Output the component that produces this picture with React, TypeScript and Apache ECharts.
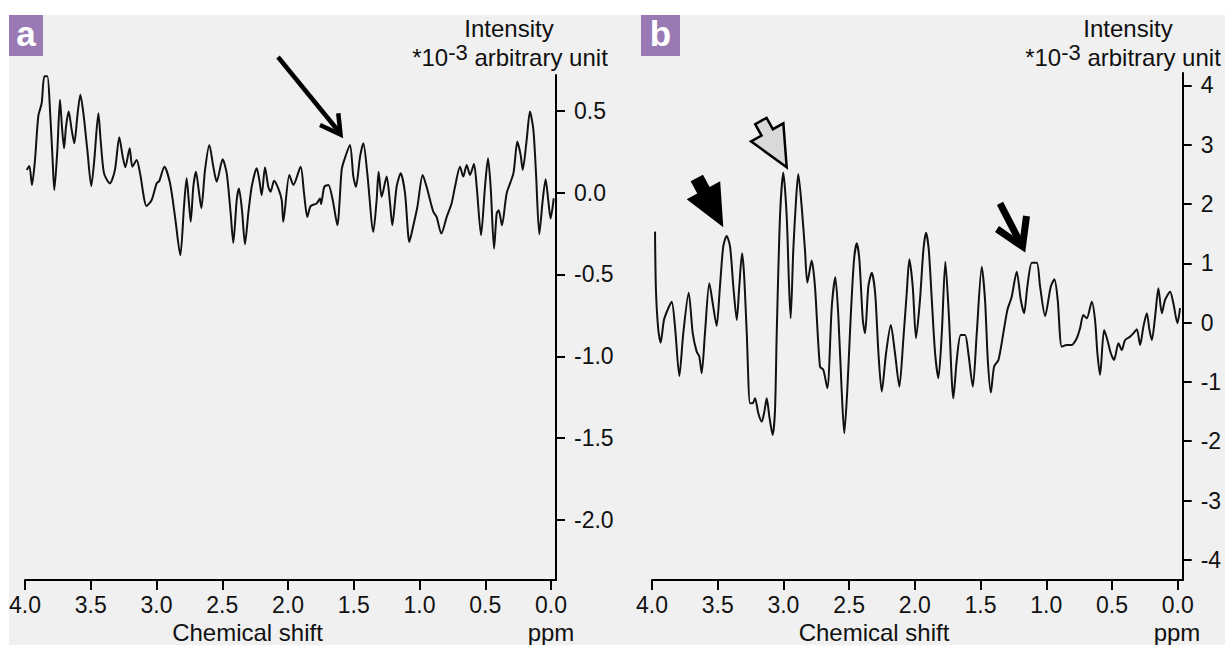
import React, { useEffect, useRef } from "react";
import * as echarts from "echarts";

// Panel a: chemical shift (ppm) and intensity (*10^-3 a.u.)
const ppmA = [3.987,3.967,3.947,3.924,3.899,3.873,3.853,3.830,3.810,3.790,3.777,3.754,3.734,3.719,3.703,3.688,3.668,3.645,3.625,3.602,3.579,3.556,3.526,3.496,3.473,3.442,3.425,3.399,3.354,3.316,3.283,3.257,3.237,3.204,3.184,3.151,3.125,3.075,3.037,2.999,2.979,2.940,2.897,2.859,2.819,2.791,2.771,2.755,2.740,2.720,2.700,2.679,2.659,2.631,2.598,2.568,2.542,2.497,2.466,2.436,2.416,2.390,2.373,2.350,2.327,2.302,2.276,2.238,2.218,2.200,2.175,2.150,2.132,2.106,2.074,2.048,2.036,1.990,1.959,1.904,1.878,1.853,1.828,1.782,1.757,1.749,1.724,1.693,1.660,1.625,1.592,1.572,1.529,1.503,1.483,1.452,1.427,1.397,1.351,1.326,1.311,1.288,1.250,1.224,1.207,1.174,1.143,1.110,1.077,1.052,1.016,0.976,0.946,0.895,0.870,0.834,0.793,0.756,0.730,0.692,0.667,0.641,0.616,0.586,0.565,0.532,0.502,0.479,0.459,0.433,0.413,0.398,0.373,0.337,0.286,0.256,0.231,0.215,0.185,0.160,0.134,0.114,0.089,0.063,0.041,0.021,0.003,-0.021];
const intA = [0.139,0.163,0.047,0.2,0.466,0.548,0.711,0.711,0.507,0.2,0.016,0.261,0.568,0.404,0.272,0.404,0.496,0.384,0.302,0.466,0.599,0.486,0.261,0.04,0.2,0.486,0.323,0.118,0.057,0.139,0.339,0.22,0.155,0.272,0.159,0.2,0.118,-0.082,-0.045,0.057,0.071,0.159,0.057,-0.148,-0.383,-0.086,0.088,-0.045,-0.178,0.036,0.128,0.016,-0.096,0.139,0.292,0.159,0.067,0.204,0.118,-0.127,-0.307,-0.045,0.026,-0.107,-0.315,-0.127,0.036,0.149,0.077,-0.015,0.155,0.036,0.006,0.073,0.026,-0.045,-0.178,0.108,0.047,0.159,-0.004,-0.148,-0.082,-0.066,-0.035,-0.07,0.036,0.047,-0.045,-0.199,0.139,0.2,0.292,0.098,0.036,0.22,0.302,0.118,-0.24,-0.045,0.128,-0.025,0.098,-0.066,-0.199,0.036,0.118,-0.004,-0.301,-0.219,-0.086,0.108,0.036,-0.117,-0.148,-0.25,-0.148,-0.066,0.036,0.159,0.098,0.169,0.108,0.175,0.036,-0.26,0.036,0.21,0.036,-0.342,-0.127,-0.107,-0.199,-0.004,0.118,0.312,0.231,0.139,0.323,0.496,0.384,0.118,-0.254,-0.045,0.082,-0.045,-0.158,-0.035];

// Panel b
const ppmB = [3.977,3.970,3.952,3.934,3.909,3.876,3.850,3.825,3.792,3.762,3.721,3.690,3.660,3.640,3.622,3.597,3.564,3.534,3.508,3.483,3.458,3.432,3.406,3.381,3.355,3.336,3.315,3.300,3.279,3.254,3.234,3.216,3.191,3.165,3.145,3.127,3.107,3.082,3.064,3.051,3.026,3.001,2.975,2.957,2.945,2.925,2.904,2.887,2.861,2.836,2.818,2.785,2.760,2.722,2.696,2.666,2.632,2.605,2.582,2.557,2.537,2.514,2.488,2.463,2.442,2.422,2.396,2.379,2.354,2.328,2.302,2.277,2.252,2.219,2.183,2.151,2.118,2.088,2.062,2.042,2.016,1.991,1.961,1.935,1.915,1.894,1.871,1.846,1.821,1.795,1.768,1.742,1.707,1.681,1.651,1.618,1.593,1.559,1.529,1.491,1.466,1.445,1.422,1.397,1.364,1.327,1.296,1.263,1.225,1.194,1.169,1.144,1.110,1.072,1.047,1.009,0.966,0.938,0.913,0.882,0.844,0.806,0.768,0.743,0.718,0.692,0.654,0.629,0.611,0.591,0.560,0.535,0.509,0.484,0.451,0.426,0.400,0.362,0.337,0.311,0.286,0.261,0.235,0.215,0.197,0.172,0.147,0.121,0.096,0.058,0.033,0.002,-0.018];
const intB = [1.535,0.551,-0.123,-0.337,0.046,0.243,0.354,-0.067,-0.899,-0.179,0.506,-0.179,-0.489,-0.573,-0.853,-0.179,0.664,0.27,-0.056,0.607,1.282,1.462,1.282,0.607,0.046,0.607,1.17,0.833,-0.179,-1.359,-1.359,-1.275,-1.528,-1.67,-1.501,-1.275,-1.585,-1.894,-1.472,-0.179,1.788,2.53,1.788,0.607,0.074,1.226,2.069,2.508,1.956,1.226,0.675,1.046,0.607,-0.742,-0.798,-1.106,0.27,0.766,0.101,-1.135,-1.865,-1.135,0.101,1.057,1.339,1.057,0.046,-0.179,0.607,0.843,0.496,-0.516,-1.164,-0.516,-0.039,-0.516,-1.079,-0.292,0.496,1.069,0.607,-0.263,0.383,1.226,1.518,1.226,0.383,-0.516,-0.938,-0.179,1.029,0.159,-1.275,-0.629,-0.207,-0.207,-0.516,-1.079,-0.179,0.944,0.383,-0.629,-1.18,-0.742,-0.629,-0.179,0.214,0.438,0.86,0.383,0.159,0.607,1.012,1.012,0.607,0.113,0.607,0.732,0.383,-0.405,-0.376,-0.376,-0.263,-0.094,0.13,0.074,0.354,0.046,-0.516,-0.882,-0.123,-0.292,-0.516,-0.629,-0.347,-0.46,-0.292,-0.236,-0.179,-0.111,-0.376,-0.067,0.159,-0.123,-0.292,0.101,0.58,0.159,0.383,0.523,0.327,-0.01,0.243];

const xTicks = [0, 0.5, 1, 1.5, 2, 2.5, 3, 3.5, 4];
const yTicksA = [0.5, 0, -0.5, -1, -1.5, -2];
const yTicksB = [4, 3, 2, 1, 0, -1, -2, -3, -4];

const panelLetters = ["a", "b"];
const xTitle = "Chemical shift";
const xUnit = "ppm";
const yTitle = "Intensity";

const FONT = '"Liberation Sans", Arial, Helvetica, sans-serif';

function zip(xs: number[], ys: number[]) {
  const n = Math.min(xs.length, ys.length);
  const out: number[][] = [];
  for (let i = 0; i < n; i++) out.push([xs[i], ys[i]]);
  return out;
}

function blockArrow(tip: number[], dir: number[], headLen: number, headHalf: number, shaftHalf: number, shaftLen: number) {
  const len = Math.hypot(dir[0], dir[1]);
  const dx = dir[0] / len, dy = dir[1] / len;
  const px = -dy, py = dx;
  const [tx, ty] = tip;
  const bx = tx - dx * headLen, by = ty - dy * headLen;
  const ex = bx - dx * shaftLen, ey = by - dy * shaftLen;
  return [
    [tx, ty],
    [bx + px * headHalf, by + py * headHalf],
    [bx + px * shaftHalf, by + py * shaftHalf],
    [ex + px * shaftHalf, ey + py * shaftHalf],
    [ex - px * shaftHalf, ey - py * shaftHalf],
    [bx - px * shaftHalf, by - py * shaftHalf],
    [bx - px * headHalf, by - py * headHalf],
  ];
}

function xAxisCfg(gridIndex: number) {
  return {
    type: "value",
    gridIndex,
    min: -0.038,
    max: 4,
    inverse: true,
    axisLine: { show: true, onZero: false, lineStyle: { color: "#000", width: 2 } },
    axisTick: { show: true, length: 10, customValues: xTicks, lineStyle: { color: "#000", width: 2 } },
    axisLabel: {
      show: true,
      customValues: xTicks,
      formatter: (v: number) => Number(v).toFixed(1),
      fontSize: 23,
      color: "#111",
      margin: 13,
      fontFamily: FONT,
    },
    splitLine: { show: false },
  };
}

function yAxisCfg(gridIndex: number, min: number, max: number, ticks: number[], fmt: (v: number) => string) {
  return {
    type: "value",
    gridIndex,
    min,
    max,
    position: "right",
    axisLine: { show: true, onZero: false, lineStyle: { color: "#000", width: 2 } },
    axisTick: { show: true, length: 9, customValues: ticks, lineStyle: { color: "#000", width: 2 } },
    axisLabel: {
      show: true,
      customValues: ticks,
      formatter: fmt,
      fontSize: 23,
      color: "#111",
      margin: 18,
      fontFamily: FONT,
    },
    splitLine: { show: false },
  };
}

function txt(text: string, x: number, y: number, opts: any = {}) {
  return {
    type: "text",
    z: 10,
    style: {
      text,
      x,
      y,
      align: opts.align || "center",
      textAlign: opts.align || "center",
      verticalAlign: "middle",
      textVerticalAlign: "middle",
      fill: opts.fill || "#111",
      font: opts.font || `24px ${FONT}`,
      rich: opts.rich,
    },
  };
}

const unitRich = {
  n: { fontSize: 24, fontFamily: FONT, lineHeight: 28, verticalAlign: "bottom", fill: "#111", color: "#111" },
  s: { fontSize: 22, fontFamily: FONT, lineHeight: 16, verticalAlign: "top", fill: "#111", color: "#111" },
};
const unitText = "{n|*10}{s|-3}{n| arbitrary unit}";

export default function App() {
  const ref = useRef<HTMLDivElement>(null);
  useEffect(() => {
    if (!ref.current) return;
    const chart = echarts.init(ref.current, null, { renderer: "svg" });
    const blackBlock = blockArrow([723.3, 227.3], [0.473, 0.881], 42, 19, 7, 14);
    const hollowBlock = blockArrow([786.7, 167.3], [0.487, 0.873], 40, 18.5, 6.5, 13);
    chart.setOption({
      animation: false,
      backgroundColor: "#f0f0f0",
      grid: [
        { left: 25, top: 75, width: 531, height: 505, containLabel: false },
        { left: 652, top: 73, width: 530.7, height: 507, containLabel: false },
      ],
      xAxis: [xAxisCfg(0), xAxisCfg(1)],
      yAxis: [
        yAxisCfg(0, -2.367, 0.719, yTicksA, (v: number) => Number(v).toFixed(1)),
        yAxisCfg(1, -4.34, 4.21, yTicksB, (v: number) => String(Math.round(v))),
      ],
      series: [
        {
          type: "line",
          xAxisIndex: 0,
          yAxisIndex: 0,
          data: zip(ppmA, intA),
          showSymbol: false,
          smooth: 0.25,
          lineStyle: { color: "#111", width: 2 },
        },
        {
          type: "line",
          xAxisIndex: 1,
          yAxisIndex: 1,
          data: zip(ppmB, intB),
          showSymbol: false,
          smooth: 0.25,
          lineStyle: { color: "#111", width: 2 },
        },
      ],
      graphic: [
        { type: "rect", z: 5, shape: { x: 0, y: 0, width: 1225, height: 15 }, style: { fill: "#ffffff" } },
        { type: "rect", z: 5, shape: { x: 0, y: 0, width: 9, height: 645 }, style: { fill: "#ffffff" } },
        { type: "rect", z: 6, shape: { x: 9, y: 15, width: 34, height: 41 }, style: { fill: "#9a7ab4" } },
        { type: "rect", z: 6, shape: { x: 641, y: 15, width: 39, height: 41 }, style: { fill: "#9a7ab4" } },
        txt(panelLetters[0], 26, 33, { fill: "#ffffff", font: `bold 35px ${FONT}` }),
        txt(panelLetters[1], 660.5, 33, { fill: "#ffffff", font: `bold 35px ${FONT}` }),
        txt(yTitle, 509, 28),
        txt(unitText, 510, 55, { rich: unitRich }),
        txt(yTitle, 1128, 28),
        txt(unitText, 1123, 55, { rich: unitRich }),
        txt(xTitle, 247.5, 632),
        txt(xUnit, 551, 632),
        txt(xTitle, 874, 632),
        txt(xUnit, 1177, 632),
        // panel a arrow
        { type: "polyline", z: 10, shape: { points: [[278, 57], [340, 133]] }, style: { stroke: "#000", lineWidth: 4.5, fill: null } },
        { type: "polyline", z: 10, shape: { points: [[320, 125], [340.5, 134.5], [338.3, 113.3]] }, style: { stroke: "#000", lineWidth: 4.5, fill: null, lineJoin: "miter" } },
        // panel b arrows
        { type: "polygon", z: 10, shape: { points: blackBlock }, style: { fill: "#000" } },
        { type: "polygon", z: 10, shape: { points: hollowBlock }, style: { fill: "#d9d9d9", stroke: "#000", lineWidth: 2.5, lineJoin: "miter" } },
        { type: "polyline", z: 10, shape: { points: [[1000, 203.3], [1022, 246]] }, style: { stroke: "#000", lineWidth: 7, fill: null } },
        { type: "polyline", z: 10, shape: { points: [[997, 229], [1022.5, 246.5], [1026.5, 216]] }, style: { stroke: "#000", lineWidth: 7, fill: null, lineJoin: "miter" } },
      ],
    });
    return () => chart.dispose();
  }, []);
  return (
    <div
      ref={ref}
      style={{ position: "absolute", left: 0, top: 0, width: 1225, height: 645, background: "#fff" }}
    />
  );
}
